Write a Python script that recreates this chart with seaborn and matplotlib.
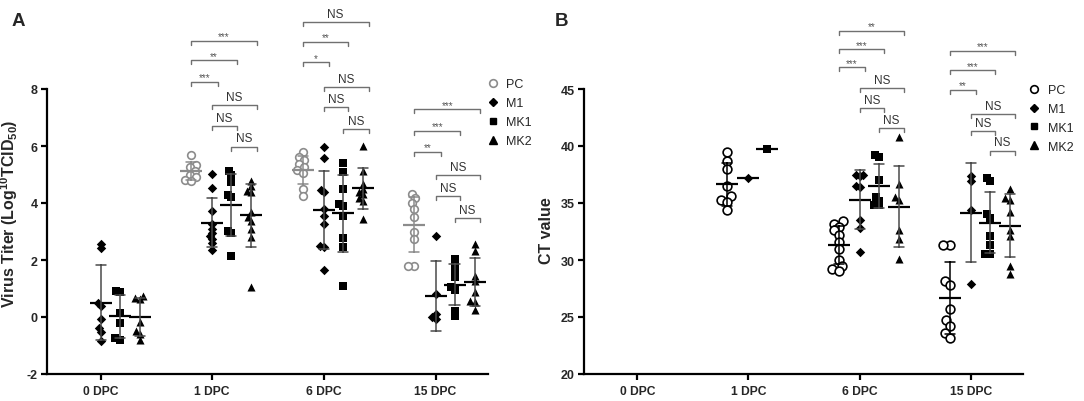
import matplotlib
matplotlib.use("Agg")
import matplotlib.pyplot as plt
from matplotlib.lines import Line2D
import numpy as np
import pandas as pd
import seaborn as sns

days = ["0 DPC", "1 DPC", "6 DPC", "15 DPC"]
groups = ["PC", "M1", "MK1", "MK2"]

# ---- panel A : virus titer (log10 TCID50) ----
titer_m1_d0 = [2.56, 2.42, 0.49, 0.40, -0.08, -0.40, -0.52, -0.83]
titer_mk1_d0 = [0.92, 0.86, 0.15, -0.20, -0.75, -0.80]
titer_mk2_d0 = [0.72, 0.68, 0.62, -0.18, -0.50, -0.58, -0.82]

titer_pc_d1 = [5.70, 5.35, 5.25, 5.12, 5.00, 4.90, 4.82, 4.76]
titer_m1_d1 = [5.02, 4.51, 3.71, 3.25, 3.10, 2.95, 2.85, 2.75, 2.60, 2.36]
titer_mk1_d1 = [5.11, 4.98, 4.73, 4.28, 4.20, 3.03, 2.94, 2.15]
titer_mk2_d1 = [4.78, 4.61, 4.43, 4.37, 3.69, 3.50, 3.38, 3.09, 2.80, 1.06]

titer_pc_d6 = [5.78, 5.60, 5.50, 5.37, 5.25, 5.15, 5.05, 4.48, 4.25]
titer_m1_d6 = [5.95, 5.57, 4.45, 4.38, 3.78, 3.55, 3.25, 2.50, 2.45, 1.66]
titer_mk1_d6 = [5.40, 5.10, 4.50, 3.95, 3.88, 3.55, 2.78, 2.45, 1.10]
titer_mk2_d6 = [5.99, 5.11, 4.67, 4.50, 4.40, 4.30, 4.18, 4.08, 3.44]

titer_pc_d15 = [4.32, 4.16, 3.99, 3.80, 3.50, 2.97, 2.75, 1.80, 1.80]
titer_m1_d15 = [2.83, 0.81, 0.11, 0.00, -0.07]
titer_mk1_d15 = [2.04, 1.80, 1.62, 1.40, 1.05, 0.95, 0.20, 0.05]
titer_mk2_d15 = [2.56, 2.33, 1.45, 1.27, 0.87, 0.57, 0.53, 0.26]

# ---- panel B : CT value ----
ct_pc_d1 = [39.45, 38.70, 38.00, 36.50, 35.60, 35.30, 35.10, 34.40]
ct_m1_d1 = [37.2]
ct_mk1_d1 = [39.7]

ct_pc_d6 = [33.4, 33.2, 32.9, 32.6, 32.2, 31.6, 31.0, 30.0, 29.5, 29.2, 29.0]
ct_m1_d6 = [37.5, 37.5, 37.4, 36.5, 36.4, 33.5, 32.8, 30.7]
ct_mk1_d6 = [39.2, 39.0, 37.0, 35.5, 35.2, 34.8, 34.8]
ct_mk2_d6 = [40.8, 36.7, 35.5, 35.3, 32.6, 31.8, 30.1]

ct_pc_d15 = [31.3, 31.3, 28.2, 27.8, 25.7, 24.7, 24.2, 23.6, 23.2]
ct_m1_d15 = [37.4, 36.9, 34.4, 27.9]
ct_mk1_d15 = [37.2, 36.9, 34.0, 33.7, 32.1, 31.3, 30.5, 30.5]
ct_mk2_d15 = [36.2, 35.4, 35.3, 34.2, 32.6, 32.1, 29.5, 28.8]

# significance brackets: (day, left group, right group, height, label)
sig_a = [
    (1, "PC", "MK2", 9.70, "***"), (1, "PC", "MK1", 9.02, "**"), (1, "PC", "M1", 8.26, "***"),
    (1, "M1", "MK2", 7.44, "NS"), (1, "M1", "MK1", 6.71, "NS"), (1, "MK1", "MK2", 5.98, "NS"),
    (2, "PC", "MK2", 10.36, "NS"), (2, "PC", "MK1", 9.66, "**"), (2, "PC", "M1", 8.94, "*"),
    (2, "M1", "MK2", 8.06, "NS"), (2, "M1", "MK1", 7.36, "NS"), (2, "MK1", "MK2", 6.60, "NS"),
    (3, "PC", "MK2", 7.30, "***"), (3, "PC", "MK1", 6.54, "***"), (3, "PC", "M1", 5.80, "**"),
    (3, "M1", "MK2", 4.98, "NS"), (3, "M1", "MK1", 4.23, "NS"), (3, "MK1", "MK2", 3.46, "NS"),
]
sig_b = [
    (2, "PC", "MK2", 50.10, "**"), (2, "PC", "MK1", 48.50, "***"), (2, "PC", "M1", 46.90, "***"),
    (2, "M1", "MK2", 45.06, "NS"), (2, "M1", "MK1", 43.30, "NS"), (2, "MK1", "MK2", 41.55, "NS"),
    (3, "PC", "MK2", 48.36, "***"), (3, "PC", "MK1", 46.67, "***"), (3, "PC", "M1", 44.94, "**"),
    (3, "M1", "MK2", 42.80, "NS"), (3, "M1", "MK1", 41.34, "NS"), (3, "MK1", "MK2", 39.60, "NS"),
]

titer = {
    ("0 DPC", "M1"): titer_m1_d0, ("0 DPC", "MK1"): titer_mk1_d0, ("0 DPC", "MK2"): titer_mk2_d0,
    ("1 DPC", "PC"): titer_pc_d1, ("1 DPC", "M1"): titer_m1_d1, ("1 DPC", "MK1"): titer_mk1_d1, ("1 DPC", "MK2"): titer_mk2_d1,
    ("6 DPC", "PC"): titer_pc_d6, ("6 DPC", "M1"): titer_m1_d6, ("6 DPC", "MK1"): titer_mk1_d6, ("6 DPC", "MK2"): titer_mk2_d6,
    ("15 DPC", "PC"): titer_pc_d15, ("15 DPC", "M1"): titer_m1_d15, ("15 DPC", "MK1"): titer_mk1_d15, ("15 DPC", "MK2"): titer_mk2_d15,
}
ct = {
    ("1 DPC", "PC"): ct_pc_d1, ("1 DPC", "M1"): ct_m1_d1, ("1 DPC", "MK1"): ct_mk1_d1,
    ("6 DPC", "PC"): ct_pc_d6, ("6 DPC", "M1"): ct_m1_d6, ("6 DPC", "MK1"): ct_mk1_d6, ("6 DPC", "MK2"): ct_mk2_d6,
    ("15 DPC", "PC"): ct_pc_d15, ("15 DPC", "M1"): ct_m1_d15, ("15 DPC", "MK1"): ct_mk1_d15, ("15 DPC", "MK2"): ct_mk2_d15,
}

# where each group sits inside a day
offset = {"PC": -0.19, "M1": 0.0, "MK1": 0.17, "MK2": 0.35}
markers = {"PC": "o", "M1": "D", "MK1": "s", "MK2": "^"}
msize = {"PC": 5.5, "M1": 4.8, "MK1": 5.5, "MK2": 5.8}
SPREAD = 0.55   # swarm layout uses smaller "collision" markers -> tighter, GraphPad-like columns


def to_frame(table):
    rows = []
    for (d, g), vals in table.items():
        for v in vals:
            rows.append({"day": d, "group": g, "value": v,
                         "pos": days.index(d) + offset[g]})
    return pd.DataFrame(rows)


sns.set_style("ticks")
plt.rcParams["font.family"] = ["Liberation Sans", "DejaVu Sans"]
plt.rcParams["mathtext.fontset"] = "custom"
plt.rcParams["mathtext.bf"] = "Liberation Sans:bold"
plt.rcParams["mathtext.rm"] = "Liberation Sans:bold"
plt.rcParams["mathtext.default"] = "bf"

fig = plt.figure(figsize=(10.84, 4.02), dpi=100)
ax_a = fig.add_axes([47 / 1084, 27 / 402, 441 / 1084, 285 / 402])
ax_b = fig.add_axes([584 / 1084, 27 / 402, 439 / 1084, 285 / 402])

swarms = []   # (collection, shown marker size)


def draw_panel(ax, df, pc_edge, pc_size, ylim, yticks, ylabel, label_xy, sig):
    for g in groups:
        sub = df[df.group == g]
        if sub.empty:
            continue
        size = pc_size if g == "PC" else msize[g]
        before = len(ax.collections)
        if g == "PC":
            sns.swarmplot(data=sub, x="pos", y="value", native_scale=True,
                          marker="o", size=size * SPREAD, color="white",
                          edgecolor=pc_edge, linewidth=1.2, ax=ax, zorder=3)
            bar_col, mean_col = pc_edge, pc_edge
        else:
            sns.swarmplot(data=sub, x="pos", y="value", native_scale=True,
                          marker=markers[g], size=size * SPREAD, color="black",
                          linewidth=0, ax=ax, zorder=3)
            bar_col, mean_col = "#4a4a4a", "black"
        for coll in ax.collections[before:]:
            swarms.append((coll, size))
        sns.pointplot(data=sub, x="pos", y="value", native_scale=True,
                      errorbar="sd", capsize=0.09, color=mean_col,
                      marker="_", markersize=16, markeredgewidth=1.6,
                      linestyle="none", err_kws={"linewidth": 1.1, "color": bar_col},
                      ax=ax, zorder=4)

    ax.set_xlim(-0.48, 3.47)
    ax.set_ylim(*ylim)
    ax.set_yticks(yticks)
    ax.set_xticks(range(len(days)))
    ax.set_xticklabels(days, fontweight="bold", fontsize=8.7)
    ax.set_yticklabels([str(t) for t in yticks], fontweight="bold", fontsize=9)
    ax.set_xlabel("")
    ax.set_ylabel(ylabel, fontweight="bold", fontsize=11.5)
    ax.yaxis.set_label_coords(*label_xy)
    for s in ["top", "right"]:
        ax.spines[s].set_visible(False)
    for s in ["left", "bottom"]:
        ax.spines[s].set_linewidth(1.6)
        ax.spines[s].set_color("black")
    ax.tick_params(axis="both", width=1.6, length=4.5, color="black", pad=2)
    ax.tick_params(axis="x", pad=3.5)

    drop = 0.014 * (ylim[1] - ylim[0])
    for d, g1, g2, h, lab in sig:
        x1 = d + offset[g1]
        x2 = d + offset[g2] + 0.05
        ax.plot([x1, x1, x2, x2], [h - drop, h, h, h - drop], color="#707070",
                lw=1.0, clip_on=False, zorder=5)
        if lab == "NS":
            ax.annotate(lab, ((x1 + x2) / 2, h), xytext=(0, 1.5),
                        textcoords="offset points", ha="center", va="bottom",
                        fontsize=8.5, color="#333333", annotation_clip=False)
        else:
            ax.annotate(lab, ((x1 + x2) / 2, h), xytext=(0, -0.5),
                        textcoords="offset points", ha="center", va="bottom",
                        fontsize=7, color="#555555", annotation_clip=False)


draw_panel(ax_a, to_frame(titer), "#8c8c8c", 5.5, (-2, 8), [-2, 0, 2, 4, 6, 8],
           "Virus Titer (Log$^{10}$TCID$_{50}$)", (-0.062, 0.565), sig_a)
draw_panel(ax_b, to_frame(ct), "black", 6.3, (20, 45), [20, 25, 30, 35, 40, 45],
           "CT value", (-0.069, 0.505), sig_b)


def legend_handles(pc_edge):
    hs = []
    for g in groups:
        if g == "PC":
            hs.append(Line2D([], [], marker="o", ls="none", mfc="white",
                             mec=pc_edge, mew=1.2, ms=5.5, label=g))
        else:
            hs.append(Line2D([], [], marker=markers[g], ls="none", mfc="black",
                             mec="black", ms=msize[g] * 0.9, label=g))
    return hs


for ax, edge, anchor in [(ax_a, "#8c8c8c", (0.985, 1.055)), (ax_b, "black", (1.0, 1.035))]:
    ax.legend(handles=legend_handles(edge), loc="upper left", bbox_to_anchor=anchor,
              frameon=False, fontsize=9, handletextpad=0.6, labelspacing=0.55,
              handlelength=1.0, borderaxespad=0)

fig.text(18 / 1084, 1 - 22 / 402, "A", fontsize=13.5, fontweight="bold", ha="center", va="center")
fig.text(561 / 1084, 1 - 22 / 402, "B", fontsize=13.5, fontweight="bold", ha="center", va="center")

# lay the swarms out once with the small markers, then show the real marker size
fig.canvas.draw()
for coll, size in swarms:
    if "draw" in coll.__dict__:
        del coll.draw
    coll.set_sizes([size ** 2])

fig.savefig("out.png", dpi=100)
